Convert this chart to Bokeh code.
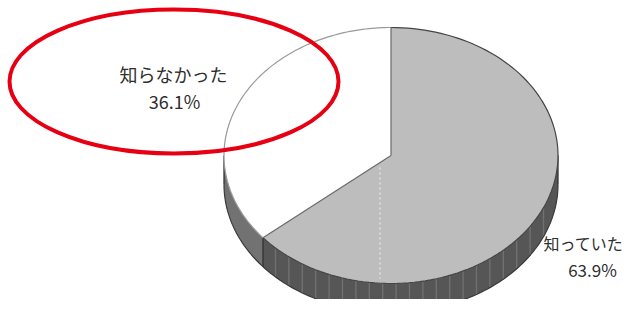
import numpy as np
from bokeh.plotting import figure
from bokeh.models import Range1d, ColumnDataSource
from bokeh.embed import file_html
from bokeh.resources import INLINE
from bokeh.core.properties import value

# ---- data ----
categories = ["知らなかった", "知っていた"]
percents = [36.1, 63.9]
pct_labels = ["36.1%", "63.9%"]

# ---- styles / layout ----
top_colors = ["#ffffff", "#bdbdbd"]
side_colors = ["#727272", "#565656"]
rim_colors = ["#9a9a9a", "#454545"]
FONT = "Noto Sans CJK JP"

W, H = 625, 299
p = figure(width=W, height=H, x_range=Range1d(0, W), y_range=Range1d(H, 0),
           output_backend="svg", toolbar_location=None, min_border=0)
p.axis.visible = False
p.grid.visible = False
p.outline_line_color = None
p.background_fill_color = "white"
p.border_fill_color = "white"

cx, cy, rx, ry, depth = 390.5, 155.0, 167.0, 128.0, 29.0


def pts(a0, a1, dy=0.0, n=120):
    t = np.radians(np.linspace(a0, a1, n))
    return cx + rx * np.cos(t), cy - ry * np.sin(t) + dy


# slice angle ranges (start at 12 o'clock, counter-clockwise)
ranges = []
start = 90.0
for v in percents:
    ranges.append((start, start + v * 3.6))
    start += v * 3.6

# ---- front side (visible lower half) ----
for (a0, a1), col in zip(ranges, side_colors):
    for lo, hi in [(180, 360), (540, 720)]:
        s0, s1 = max(a0, lo), min(a1, hi)
        if s1 > s0:
            xt, yt = pts(s0, s1)
            xb, yb = pts(s0, s1, depth)
            p.patch(list(xt) + list(xb[::-1]), list(yt) + list(yb[::-1]),
                    fill_color=col, line_color=None)

# stripes on the grey slice side
b_ang = ranges[0][1]
xb0 = cx + rx * np.cos(np.radians(b_ang))
sx = np.arange(xb0 + 12.5, cx + rx - 3, 13.4)
u = (sx - cx) / rx
sy = cy + ry * np.sqrt(1 - u ** 2)
p.segment(x0=sx, y0=sy, x1=sx, y1=sy + depth, line_color="#707070", line_width=1.4)

# side outlines
xb, yb = pts(180, 360, depth)
p.line(xb, yb, line_color="#3a3a3a", line_width=1.2)
bx, by = pts(b_ang, b_ang, 0, 2)
p.segment(x0=[cx - rx, cx + rx, bx[0]], y0=[cy, cy, by[0]],
          x1=[cx - rx, cx + rx, bx[0]], y1=[cy + depth, cy + depth, by[0] + depth],
          line_color="#333333", line_width=1.3)

# ---- top slices ----
for (a0, a1), col in zip(ranges, top_colors):
    xt, yt = pts(a0, a1)
    p.patch([cx] + list(xt), [cy] + list(yt), fill_color=col, line_color=None)

# faint dashed line on the grey top
p.line([cx - 11, cx - 11], [cy + 12, cy + ry - 5], line_color="white",
       line_width=1, line_dash="2 3", line_alpha=0.8)

# rims
for (a0, a1), col in zip(ranges, rim_colors):
    xt, yt = pts(a0, a1)
    p.line(xt, yt, line_color=col, line_width=1.2)

# radii
for a in [ranges[0][0], ranges[0][1]]:
    ex, ey = pts(a, a, 0, 2)
    p.line([cx, ex[0]], [cy, ey[0]], line_color="#6a6a6a", line_width=1.2)

# ---- labels ----
left = ColumnDataSource(dict(x=[173, 174], y=[73, 100],
                             t=[categories[0], pct_labels[0]]))
p.text(x="x", y="y", text="t", source=left, text_font=value(FONT),
       text_font_size="18px", text_color="#2e2e2e", text_align="center",
       text_baseline="middle")
right_cat = ColumnDataSource(dict(x=[623], y=[242], t=[categories[1]]))
p.text(x="x", y="y", text="t", source=right_cat, text_font=value(FONT),
       text_font_size="16px", text_color="#2e2e2e", text_align="right",
       text_baseline="middle")
right_pct = ColumnDataSource(dict(x=[592], y=[269], t=[pct_labels[1]]))
p.text(x="x", y="y", text="t", source=right_pct, text_font=value(FONT),
       text_font_size="17px", text_color="#2e2e2e", text_align="center",
       text_baseline="middle")

# ---- red highlight ellipse ----
p.ellipse(x=[173.5], y=[81], width=[329], height=[144], fill_color=None,
          line_color="#e60012", line_width=4)

open("out.html", "w").write(file_html(p, INLINE))
